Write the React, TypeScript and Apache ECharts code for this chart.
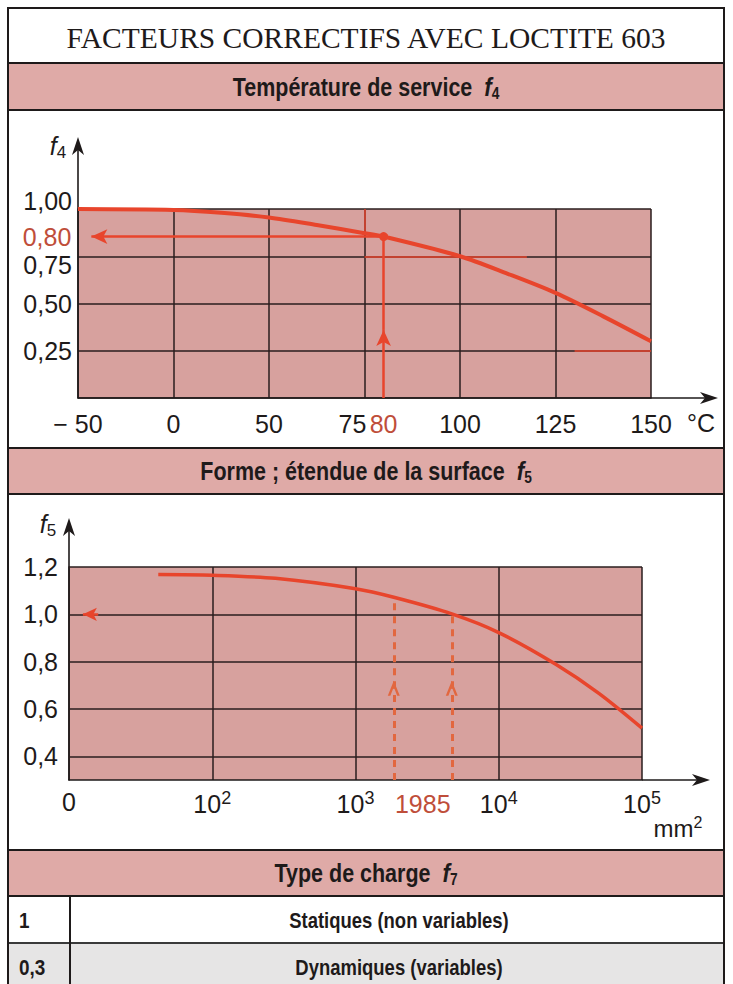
import React, { useEffect, useRef } from 'react';
import * as echarts from 'echarts';

// ---------- texts ----------
const TITLE = 'FACTEURS CORRECTIFS AVEC LOCTITE 603';
const f4Heading = 'Température de service';
const f5Heading = 'Forme ; étendue de la surface';
const f7Heading = 'Type de charge';

// ---------- f4 : service temperature ----------
const f4TickTemps = [-50, 0, 50, 75, 100, 125, 150];
const f4TickLabels = ['− 50', '0', '50', '75', '100', '125', '150'];
const f4Temps = [-50, 0, 25, 50, 62.5, 75, 80, 100, 112.5, 125, 137.5, 150];
const f4Values = [1.0, 0.995, 0.98, 0.955, 0.915, 0.872, 0.854, 0.75, 0.657, 0.556, 0.432, 0.3];
const f4YTicks = [0.25, 0.5, 0.75, 1.0];
const f4ReadTemp = 80;
const f4ReadValue = 0.854;
const f4ReadLabel = '0,80';
const f4ReadTempLabel = '80';

// ---------- f5 : surface ----------
const f5TickAreas = [10, 100, 1000, 10000, 100000];
const f5TickLabels = ['0', '10{sup|2}', '10{sup|3}', '10{sup|4}', '10{sup|5}'];
const f5YTicks = [0.4, 0.6, 0.8, 1.0, 1.2];
const f5Areas = [42, 100, 276, 1000, 1850, 4700, 10000, 25000, 50000, 100000];
const f5Values = [1.168, 1.165, 1.152, 1.108, 1.072, 1.002, 0.923, 0.789, 0.666, 0.519];
const f5ReadAreas = [1850, 4700];
const f5ReadValues = [1.072, 1.0];
const f5ReadLabel = '1985';
const f5ResultValue = 1.0;

// ---------- f7 : load type ----------
const f7Factors = ['1', '0,3'];
const f7Types = ['Statiques (non variables)', 'Dynamiques (variables)'];

// ---------- styles ----------
const SANS = '"Liberation Sans", Arial, Helvetica, sans-serif';
const SERIF = '"Liberation Serif", "Times New Roman", serif';
const INK = '#1e1a1a';
const GRID = '#2a1e1e';
const RED = '#e8452c';
const LABEL_RED = '#bf4e3a';
const DASH_RED = '#e2673f';
const PLOT_BG = '#d7a19e';
const BAND_BG = '#dfaaa7';
const ROW_GREY = '#e6e5e5';
const CHEVRON = 'path://M0,14 L6,0 L12,14 L9.4,14 L6,6 L2.6,14 Z';

function tempToPos(t: number): number {
  for (let i = 0; i < f4TickTemps.length - 1; i++) {
    const a = f4TickTemps[i];
    const b = f4TickTemps[i + 1];
    if (t >= a && t <= b) return i + (t - a) / (b - a);
  }
  return t < f4TickTemps[0] ? 0 : f4TickTemps.length - 1;
}

function heading(label: string, sub: string, y: number, x = 366) {
  return {
    type: 'text',
    x,
    y,
    scaleX: 0.86,
    style: {
      text: `{t|${label}  }{f|f}{s|${sub}}`,
      align: 'center',
      verticalAlign: 'middle',
      rich: {
        t: { fontSize: 25, fontWeight: 'bold', fontFamily: SANS, fill: INK },
        f: { fontSize: 26, fontWeight: 'bold', fontStyle: 'italic', fontFamily: SANS, fill: INK },
        s: { fontSize: 16, fontWeight: 'bold', fontFamily: SANS, fill: INK, padding: [12, 0, 0, 0] },
      },
    },
  };
}

function axisName(sub: string, x: number, y: number) {
  return {
    type: 'text',
    x,
    y,
    style: {
      text: `{f|f}{s|${sub}}`,
      align: 'center',
      verticalAlign: 'middle',
      rich: {
        f: { fontSize: 25, fontStyle: 'italic', fontFamily: SANS, fill: INK },
        s: { fontSize: 17, fontFamily: SANS, fill: INK, padding: [12, 0, 0, 0] },
      },
    },
  };
}

function upArrow(x: number, tipY: number) {
  return {
    type: 'polygon',
    shape: { points: [[x, tipY], [x + 6, tipY + 18], [x, tipY + 13], [x - 6, tipY + 18]] },
    style: { fill: INK },
  };
}
function rightArrow(tipX: number, y: number) {
  return {
    type: 'polygon',
    shape: { points: [[tipX, y], [tipX - 18, y - 6], [tipX - 13, y], [tipX - 18, y + 6]] },
    style: { fill: INK },
  };
}
function hline(x1: number, x2: number, y: number, w = 2, c = INK) {
  return { type: 'line', shape: { x1, y1: y, x2, y2: y }, style: { stroke: c, lineWidth: w } };
}
function vline(x: number, y1: number, y2: number, w = 2, c = INK) {
  return { type: 'line', shape: { x1: x, y1, x2: x, y2 }, style: { stroke: c, lineWidth: w } };
}

function buildOption() {
  const p80 = tempToPos(f4ReadTemp);
  const dashed = { color: DASH_RED, width: 3, type: [7, 6] as any };
  const graphics: any[] = [
    // bands
    { type: 'rect', shape: { x: 8, y: 63, width: 716, height: 47 }, style: { fill: BAND_BG, stroke: INK, lineWidth: 2 } },
    { type: 'rect', shape: { x: 8, y: 448, width: 716, height: 46 }, style: { fill: BAND_BG, stroke: INK, lineWidth: 2 } },
    { type: 'rect', shape: { x: 8, y: 850, width: 716, height: 46 }, style: { fill: BAND_BG, stroke: INK, lineWidth: 2 } },
    // table grey row
    { type: 'rect', shape: { x: 8, y: 943, width: 716, height: 60 }, style: { fill: ROW_GREY } },
    hline(8, 724, 943, 2, '#3a3a3a'),
    vline(70, 896, 1000, 2),
    // frame
    { type: 'rect', shape: { x: 8, y: 8, width: 716, height: 1000 }, style: { fill: 'none', stroke: INK, lineWidth: 2 } },
    // title
    {
      type: 'text', x: 366, y: 38,
      style: { text: TITLE, fontSize: 29.5, fontFamily: SERIF, fill: INK, align: 'center', verticalAlign: 'middle' },
    },
    heading(f4Heading, '4', 87),
    heading(f5Heading, '5', 471),
    heading(f7Heading, '7', 873),
    // table rows
    ...f7Factors.map((v, i) => ({
      type: 'text', x: 19, y: 920 + i * 47, scaleX: 0.86,
      style: { text: v, fontSize: 22, fontWeight: 'bold', fontFamily: SANS, fill: INK, align: 'left', verticalAlign: 'middle' },
    })),
    ...f7Types.map((v, i) => ({
      type: 'text', x: 399, y: 920 + i * 47, scaleX: 0.84,
      style: { text: v, fontSize: 22, fontWeight: 'bold', fontFamily: SANS, fill: INK, align: 'center', verticalAlign: 'middle' },
    })),
    // axis extensions chart 1
    vline(78, 209, 145, 1.6),
    upArrow(78, 137),
    hline(651, 712, 398, 1.6),
    rightArrow(718, 398),
    axisName('4', 58, 146),
    { type: 'text', x: 701, y: 423, style: { text: '°C', fontSize: 25, fontFamily: SANS, fill: INK, align: 'center', verticalAlign: 'middle' } },
    // axis extensions chart 2
    vline(69, 567, 526, 1.6),
    upArrow(69, 518),
    hline(642, 704, 780, 1.6),
    rightArrow(710, 780),
    axisName('5', 48, 524),
    {
      type: 'text', x: 678, y: 828,
      style: {
        text: 'mm{sup|2}', align: 'center', verticalAlign: 'middle', fontSize: 24, fontFamily: SANS, fill: INK,
        rich: { sup: { fontSize: 16, fontFamily: SANS, fill: INK, padding: [0, 0, 12, 0] } },
      },
    },
  ];

  return {
    animation: false,
    textStyle: { fontFamily: SANS },
    grid: [
      { left: 78, top: 209, width: 573, height: 189, show: true, backgroundColor: PLOT_BG, borderWidth: 0 },
      { left: 69, top: 567, width: 573, height: 213, show: true, backgroundColor: PLOT_BG, borderWidth: 0 },
    ],
    xAxis: [
      {
        type: 'value', gridIndex: 0, min: 0, max: f4TickLabels.length - 1, interval: 1,
        axisLine: { show: true, lineStyle: { color: INK, width: 1.6 } },
        axisTick: { show: false },
        splitLine: { show: true, lineStyle: { color: GRID, width: 1.5 } },
        axisLabel: {
          margin: 13, fontSize: 25, color: INK, fontFamily: SANS,
          formatter: (v: number) => {
            const i = Math.round(v);
            return i === 3 ? `{l|${f4TickLabels[i]}}` : f4TickLabels[i];
          },
          rich: { l: { fontSize: 25, color: INK, fontFamily: SANS, padding: [0, 24, 0, 0] } },
        },
      },
      {
        type: 'log', logBase: 10, gridIndex: 1, min: f5TickAreas[0], max: f5TickAreas[f5TickAreas.length - 1],
        axisLine: { show: true, lineStyle: { color: INK, width: 1.6 } },
        axisTick: { show: false },
        splitLine: { show: true, lineStyle: { color: GRID, width: 1.5 } },
        axisLabel: {
          margin: 9, fontSize: 25, color: INK, fontFamily: SANS, showMinLabel: true, showMaxLabel: true,
          formatter: (v: number) => {
            const i = f5TickAreas.findIndex((t) => Math.abs(Math.log10(t) - Math.log10(v)) < 1e-6);
            return i >= 0 ? f5TickLabels[i] : '';
          },
          rich: { sup: { fontSize: 18, color: INK, fontFamily: SANS, padding: [0, 0, 12, 0] } },
        },
      },
    ],
    yAxis: [
      {
        type: 'value', gridIndex: 0, min: 0, max: 1, interval: 0.25,
        axisLine: { show: true, lineStyle: { color: INK, width: 1.6 } },
        axisTick: { show: false },
        splitLine: { show: true, lineStyle: { color: GRID, width: 1.5 } },
        axisLabel: {
          margin: 6, fontSize: 25, color: INK, fontFamily: SANS,
          formatter: (v: number) => {
            if (!f4YTicks.some((t) => Math.abs(t - v) < 1e-6)) return '';
            const s = v.toFixed(2).replace('.', ',');
            if (Math.abs(v - 1) < 1e-6) return `{up|${s}}`;
            if (Math.abs(v - 0.75) < 1e-6) return `{dn|${s}}`;
            return s;
          },
          rich: {
            up: { fontSize: 25, color: INK, fontFamily: SANS, padding: [0, 0, 16, 0] },
            dn: { fontSize: 25, color: INK, fontFamily: SANS, padding: [18, 0, 0, 0] },
          },
        },
      },
      {
        type: 'value', gridIndex: 1, min: 0.3, max: 1.2, interval: 0.1,
        axisLine: { show: true, lineStyle: { color: INK, width: 1.6 } },
        axisTick: { show: false },
        splitLine: { show: false },
        axisLabel: {
          margin: 11, fontSize: 25, color: INK, fontFamily: SANS,
          formatter: (v: number) =>
            f5YTicks.some((t) => Math.abs(t - v) < 1e-6) ? v.toFixed(1).replace('.', ',') : '',
        },
      },
    ],
    series: [
      // chart 2 horizontal grid lines
      {
        type: 'line', xAxisIndex: 1, yAxisIndex: 1, data: [], z: 1, silent: true,
        markLine: {
          silent: true, symbol: ['none', 'none'], label: { show: false },
          lineStyle: { color: GRID, width: 1.5, type: 'solid' },
          data: f5YTicks.map((v) => ({ yAxis: v })),
        },
      },
      // f4 curve
      {
        type: 'line', xAxisIndex: 0, yAxisIndex: 0, z: 5,
        data: f4Temps.map((t, i) => [tempToPos(t), f4Values[i]]),
        smooth: 0.3, showSymbol: false,
        lineStyle: { color: RED, width: 4 },
        markLine: {
          silent: true, symbol: ['none', 'none'], label: { show: false },
          lineStyle: { color: RED, width: 2.5, type: 'solid' },
          data: [
            [
              {
                coord: [p80, f4ReadValue], symbol: 'none',
                label: { show: true, position: 'end', formatter: f4ReadLabel, color: LABEL_RED, fontSize: 25, fontFamily: SANS, distance: 20 },
              },
              { coord: [0.14, f4ReadValue], symbol: 'arrow', symbolSize: [11, 16] },
            ],
            [
              {
                coord: [p80, 0], symbol: 'none',
                label: { show: true, position: 'start', formatter: f4ReadTempLabel, color: LABEL_RED, fontSize: 25, fontFamily: SANS, distance: 13 },
              },
              { coord: [p80, 0.36], symbol: 'arrow', symbolSize: [11, 16] },
            ],
            [{ coord: [p80, 0.36], symbol: 'none' }, { coord: [p80, f4ReadValue], symbol: 'none' }],
            [{ coord: [3, 1], symbol: 'none', lineStyle: { color: RED, width: 1.5 } }, { coord: [3, f4Values[5]], symbol: 'none' }],
            [{ coord: [3, 0.75], symbol: 'none', lineStyle: { color: RED, width: 1.5 } }, { coord: [4.7, 0.75], symbol: 'none' }],
            [{ coord: [5.2, 0.25], symbol: 'none', lineStyle: { color: RED, width: 1.5 } }, { coord: [6, 0.25], symbol: 'none' }],
          ],
        },
        markPoint: {
          silent: true,
          data: [{ coord: [p80, f4ReadValue], symbol: 'circle', symbolSize: 9, itemStyle: { color: RED }, label: { show: false } }],
        },
      },
      // f5 curve
      {
        type: 'line', xAxisIndex: 1, yAxisIndex: 1, z: 5,
        data: f5Areas.map((a, i) => [a, f5Values[i]]),
        smooth: 0.3, showSymbol: false,
        lineStyle: { color: RED, width: 3.5 },
        markLine: {
          silent: true, symbol: ['none', 'none'], label: { show: false },
          lineStyle: dashed,
          data: [
            ...f5ReadAreas.flatMap((a, i) => [
              [
                { coord: [a, 0.3], symbol: 'none', lineStyle: dashed },
                { coord: [a, 0.688], symbol: CHEVRON, symbolSize: [12, 15] },
              ],
              [
                { coord: [a, 0.688], symbol: 'none', lineStyle: dashed },
                { coord: [a, f5ReadValues[i]], symbol: 'none' },
              ],
            ]),
            [
              { coord: [16, f5ResultValue], symbol: 'none', lineStyle: { color: RED, width: 2.5, type: 'solid' } },
              { coord: [12.5, f5ResultValue], symbol: 'arrow', symbolSize: [10, 14] },
            ],
          ],
        },
        markPoint: {
          silent: true,
          data: [
            {
              coord: [Math.sqrt(f5ReadAreas[0] * f5ReadAreas[1]), 0.3],
              symbol: 'circle', symbolSize: 2, itemStyle: { color: 'rgba(0,0,0,0)' },
              label: { show: true, position: 'bottom', distance: 10, formatter: f5ReadLabel, color: LABEL_RED, fontSize: 25, fontFamily: SANS, opacity: 1 },
            },
          ],
        },
      },
    ],
    graphic: { elements: graphics },
  };
}

export default function App() {
  const ref = useRef<HTMLDivElement>(null);
  useEffect(() => {
    if (!ref.current) return;
    const chart = echarts.init(ref.current, null, { renderer: 'svg' });
    chart.setOption(buildOption() as any);
    return () => chart.dispose();
  }, []);
  return (
    <div
      ref={ref}
      style={{ position: 'absolute', left: 0, top: 0, width: 733, height: 984, background: '#fff' }}
    />
  );
}
